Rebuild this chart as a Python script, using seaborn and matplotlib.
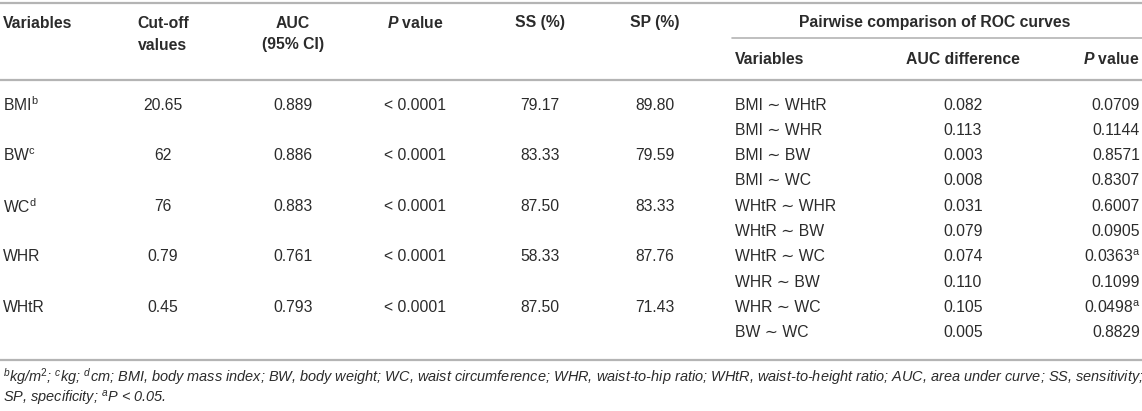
import seaborn as sns
import matplotlib.pyplot as plt

# dane z tabeli
variables = ["BMI", "BW", "WC", "WHR", "WHtR"]
var_sup = ["b", "c", "d", "", ""]
cutoff = ["20.65", "62", "76", "0.79", "0.45"]
auc = ["0.889", "0.886", "0.883", "0.761", "0.793"]
p_value = ["< 0.0001", "< 0.0001", "< 0.0001", "< 0.0001", "< 0.0001"]
ss = ["79.17", "83.33", "87.50", "58.33", "87.50"]
sp = ["89.80", "79.59", "83.33", "87.76", "71.43"]

pairs = ["BMI ∼ WHtR", "BMI ∼ WHR", "BMI ∼ BW", "BMI ∼ WC", "WHtR ∼ WHR",
         "WHtR ∼ BW", "WHtR ∼ WC", "WHR ∼ BW", "WHR ∼ WC", "BW ∼ WC"]
auc_diff = ["0.082", "0.113", "0.003", "0.008", "0.031",
            "0.079", "0.074", "0.110", "0.105", "0.005"]
pair_p = ["0.0709", "0.1144", "0.8571", "0.8307", "0.6007",
          "0.0905", "0.0363", "0.1099", "0.0498", "0.8829"]
pair_sup = ["", "", "", "", "", "", "a", "", "a", ""]

headers = ["Variables", "Cut-off\nvalues", "AUC\n(95% CI)", r"$\mathbfit{P}$ value", "SS (%)", "SP (%)"]
sub_headers = ["Variables", "AUC difference", r"$\mathbfit{P}$ value"]
group_title = "Pairwise comparison of ROC curves"

footnote = [
    r"$^{b}$kg/m$^{2}$; $^{c}$kg; $^{d}$cm; BMI, body mass index; BW, body weight; WC, waist circumference; "
    r"WHR, waist-to-hip ratio; WHtR, waist-to-height ratio; AUC, area under curve; SS, sensitivity;",
    r"SP, specificity; $^{a}$P < 0.05.",
]

sns.set_theme(style="white")
plt.rcParams['font.family'] = ['Liberation Sans', 'DejaVu Sans']
plt.rcParams['mathtext.fontset'] = 'custom'
plt.rcParams['mathtext.rm'] = 'Liberation Sans'
plt.rcParams['mathtext.it'] = 'Liberation Sans:italic'
plt.rcParams['mathtext.bf'] = 'Liberation Sans:bold'
plt.rcParams['mathtext.bfit'] = 'Liberation Sans:italic:bold'

W, H = 1142, 411
fig = plt.figure(figsize=(W / 100, H / 100), dpi=100)
ax = fig.add_axes([0, 0, 1, 1])
ax.set_xlim(0, W)
ax.set_ylim(H, 0)
ax.axis('off')

txt = '#2b2b2b'
line_c = '#b4b4b4'
fs = 11.3

# linie poziome
ax.axhline(3, color=line_c, lw=1.6)
ax.plot([732, W], [38, 38], color=line_c, lw=1.2)
ax.axhline(80, color=line_c, lw=1.6)
ax.axhline(360, color=line_c, lw=1.6)

# naglowki
col_x = [3, 163, 293, 415, 540, 655]
col_ha = ['left', 'center', 'center', 'center', 'center', 'center']
for x, ha, h in zip(col_x, col_ha, headers):
    for n, part in enumerate(h.split('\n')):
        ax.text(x, 23 + n * 22, part, ha=ha, va='center', fontsize=fs, fontweight='bold', color=txt)

ax.text(935, 23, group_title, ha='center', va='center', fontsize=fs, fontweight='bold', color=txt)
sub_x = [735, 963, 1140]
sub_ha = ['left', 'center', 'right']
for x, ha, h in zip(sub_x, sub_ha, sub_headers):
    ax.text(x, 59, h, ha=ha, va='center', fontsize=fs, fontweight='bold', color=txt)

# wiersze
y0, dy = 105, 25.3
for i in range(len(variables)):
    y = y0 + 2 * i * dy
    label = variables[i] + (r"$^{\mathrm{%s}}$" % var_sup[i] if var_sup[i] else "")
    row = [label, cutoff[i], auc[i], p_value[i], ss[i], sp[i]]
    for x, ha, v in zip(col_x, col_ha, row):
        ax.text(x, y, v, ha=ha, va='center', fontsize=fs, color=txt)

for j in range(len(pairs)):
    y = y0 + j * dy
    p = pair_p[j] + (r"$^{\mathrm{%s}}$" % pair_sup[j] if pair_sup[j] else "")
    for x, ha, v in zip(sub_x, sub_ha, [pairs[j], auc_diff[j], p]):
        ax.text(x, y, v, ha=ha, va='center', fontsize=fs, color=txt)

# przypis
for k, line in enumerate(footnote):
    ax.text(3, 377 + k * 21, line, ha='left', va='center', fontsize=10.45, style='italic', color=txt)

plt.savefig('out.png', dpi=100)
